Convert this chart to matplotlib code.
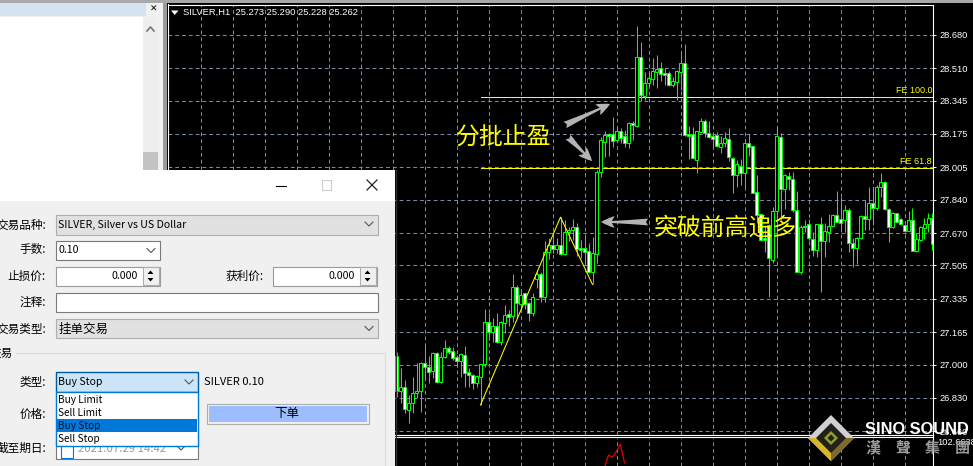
import matplotlib
matplotlib.use('Agg')
import matplotlib.pyplot as plt
import numpy as np
from matplotlib.patches import Rectangle, Polygon

# hourly silver candles; first one sits just right of the dialog
opens = [27.044, 26.864, 26.884, 26.766, 26.803, 26.857, 26.864, 27.007, 26.986, 26.966,
         27.058, 26.913, 27.037, 27.083, 27.071, 27.037, 27.020, 27.049, 26.963, 26.946,
         26.908, 26.939, 27.002, 27.219, 27.165, 27.197, 27.117, 27.214, 27.258, 27.245,
         27.394, 27.309, 27.363, 27.313, 27.262, 27.435, 27.460, 27.343, 27.571, 27.608,
         27.591, 27.608, 27.564, 27.673, 27.686, 27.703, 27.593, 27.593, 27.578, 27.474,
         27.562, 27.981, 28.134, 28.175, 28.174, 28.145, 28.190, 28.165, 28.129, 28.230,
         28.216, 28.566, 28.369, 28.437, 28.455, 28.493, 28.513, 28.484, 28.484, 28.425,
         28.442, 28.493, 28.535, 28.174, 28.174, 28.043, 28.184, 28.243, 28.182, 28.165,
         28.170, 28.110, 28.128, 28.150, 28.054, 27.966, 28.014, 27.975, 28.128, 28.114,
         27.878, 27.766, 27.645, 27.711, 27.533, 27.784, 28.158, 27.893, 27.961, 27.944,
         27.788, 27.472, 27.706, 27.715, 27.640, 27.584, 27.715, 27.630, 27.677, 27.706,
         27.762, 27.740, 27.737, 27.786, 27.618, 27.593, 27.644, 27.757, 27.740, 27.822,
         27.800, 27.907, 27.929, 27.791, 27.703, 27.771, 27.740, 27.711, 27.682, 27.737,
         27.580, 27.635, 27.695, 27.715, 27.746]
closes = [26.867, 26.884, 26.772, 26.803, 26.857, 26.864, 27.007, 26.986, 26.963, 27.058,
          26.912, 27.037, 27.083, 27.066, 27.034, 27.020, 27.053, 26.956, 26.946, 26.908,
          26.942, 27.002, 27.219, 27.165, 27.197, 27.117, 27.217, 27.251, 27.241, 27.394,
          27.313, 27.353, 27.309, 27.262, 27.343, 27.462, 27.343, 27.574, 27.608, 27.591,
          27.608, 27.564, 27.676, 27.686, 27.703, 27.588, 27.584, 27.571, 27.472, 27.567,
          27.979, 28.145, 28.170, 28.165, 28.141, 28.190, 28.155, 28.127, 28.231, 28.219,
          28.566, 28.374, 28.437, 28.461, 28.496, 28.508, 28.481, 28.476, 28.425, 28.445,
          28.496, 28.535, 28.170, 28.166, 28.054, 28.190, 28.243, 28.182, 28.161, 28.151,
          28.114, 28.131, 28.153, 28.056, 27.966, 28.021, 27.975, 28.128, 28.110, 27.876,
          27.762, 27.635, 27.635, 27.543, 27.784, 28.165, 27.893, 27.966, 27.944, 27.788,
          27.473, 27.703, 27.700, 27.644, 27.584, 27.715, 27.630, 27.681, 27.706, 27.762,
          27.728, 27.723, 27.786, 27.618, 27.593, 27.644, 27.757, 27.740, 27.822, 27.796,
          27.903, 27.929, 27.791, 27.703, 27.771, 27.728, 27.715, 27.682, 27.737, 27.580,
          27.640, 27.701, 27.715, 27.746, 27.615]
highs = [27.066, 26.981, 26.922, 26.845, 26.939, 27.007, 27.015, 27.092, 27.041, 27.066,
         27.066, 27.066, 27.126, 27.092, 27.088, 27.049, 27.061, 27.095, 26.981, 26.952,
         26.947, 27.003, 27.282, 27.265, 27.236, 27.265, 27.224, 27.304, 27.279, 27.460,
         27.406, 27.380, 27.367, 27.321, 27.363, 27.482, 27.474, 27.627, 27.644, 27.669,
         27.644, 27.751, 27.737, 27.703, 27.741, 27.720, 27.635, 27.656, 27.618, 27.649,
         27.992, 28.160, 28.190, 28.180, 28.262, 28.206, 28.206, 28.195, 28.236, 28.243,
         28.725, 28.645, 28.491, 28.498, 28.562, 28.578, 28.544, 28.511, 28.498, 28.467,
         28.501, 28.598, 28.634, 28.216, 28.211, 28.192, 28.258, 28.250, 28.243, 28.187,
         28.187, 28.165, 28.187, 28.206, 28.059, 28.043, 28.048, 28.148, 28.174, 28.114,
         27.966, 27.767, 27.711, 27.716, 27.805, 28.212, 28.179, 27.971, 27.983, 27.983,
         27.885, 27.711, 27.737, 27.742, 27.676, 27.716, 27.754, 27.720, 27.766, 27.767,
         27.885, 27.856, 27.813, 27.800, 27.645, 27.652, 27.762, 27.839, 27.903, 27.900,
         27.915, 27.975, 27.936, 27.797, 27.776, 27.773, 27.746, 27.715, 27.783, 27.800,
         27.671, 27.706, 27.749, 27.771, 27.771]
lows = [26.837, 26.803, 26.755, 26.701, 26.755, 26.828, 26.760, 26.922, 26.905, 26.930,
        26.905, 26.905, 27.032, 27.054, 27.024, 26.990, 26.939, 26.888, 26.888, 26.874,
        26.888, 26.794, 26.990, 27.126, 27.117, 27.109, 27.100, 27.160, 27.194, 27.219,
        27.236, 27.279, 27.282, 27.224, 27.245, 27.389, 27.321, 27.321, 27.537, 27.567,
        27.567, 27.559, 27.559, 27.627, 27.635, 27.554, 27.542, 27.516, 27.465, 27.408,
        27.518, 27.956, 28.058, 28.063, 28.109, 28.134, 28.129, 28.109, 28.104, 28.145,
        28.211, 28.343, 28.348, 28.415, 28.425, 28.410, 28.447, 28.425, 28.420, 28.416,
        28.348, 28.399, 28.165, 28.048, 28.051, 27.978, 28.180, 28.160, 28.153, 28.116,
        28.110, 28.080, 28.110, 28.039, 27.876, 27.907, 27.915, 27.903, 28.065, 27.873,
        27.722, 27.631, 27.574, 27.346, 27.516, 27.543, 27.737, 27.791, 27.890, 27.779,
        27.472, 27.462, 27.676, 27.635, 27.555, 27.550, 27.371, 27.550, 27.626, 27.703,
        27.727, 27.677, 27.677, 27.575, 27.499, 27.511, 27.640, 27.686, 27.686, 27.711,
        27.788, 27.856, 27.788, 27.626, 27.695, 27.725, 27.711, 27.677, 27.681, 27.579,
        27.572, 27.630, 27.640, 27.677, 27.584]

price_ticks = [28.680, 28.510, 28.345, 28.175, 28.005, 27.840, 27.670, 27.505,
               27.335, 27.165, 27.000, 26.830, 26.660]
price_labels = ['28.680', '28.510', '28.345', '28.175', '28.005', '27.840', '27.670',
                '27.505', '27.335', '27.165', '27.000', '26.830', '26.660']

# Fibonacci expansion levels and the zigzag swing they hang off
fe_levels = [28.362, 28.000]
fe_labels = ['FE 100.0', 'FE 61.8']
swing_bars = [21, 41, 49]

# lower indicator window, only the red peak shows
ind_bars = [52, 53, 54, 55, 56, 57]
ind_values = [101.36, 102.01, 101.90, 102.21, 102.55, 101.61]

W, H = 973, 466
CJK = ['Noto Sans CJK SC', 'DejaVu Sans']
GREEN = '#00ff00'
GRID = '#7c8ca0'
DASH = (0, (3.8, 3))
XMIN, XMAX = -57.125, 134.125

fig = plt.figure(figsize=(W / 100, H / 100), dpi=100, facecolor='black')


def px_axes(x0, y0, x1, y1):
    # axes placed by its pixel box, y counted from the top of the picture
    return fig.add_axes([x0 / W, 1 - y1 / H, (x1 - x0) / W, (y1 - y0) / H])


# price window
ax = px_axes(168, 5, 933, 435)
ax.set_facecolor('black')
ax.set_xlim(XMIN, XMAX)
ax.set_ylim(26.641, 28.832)
ax.set_xticks(np.arange(-49, 128, 8))
ax.set_yticks(price_ticks)
ax.set_yticklabels(price_labels, family='Liberation Sans', fontsize=6.7, color='white')
ax.yaxis.tick_right()
ax.tick_params(axis='y', length=2.5, width=0.7, color='white', pad=2)
ax.tick_params(axis='x', length=0, labelbottom=False)
ax.grid(True, color=GRID, lw=0.72, ls=DASH)
ax.set_axisbelow(True)
for s in ax.spines.values():
    s.set_visible(False)

bars = np.arange(len(opens))
o = np.array(opens)
c = np.array(closes)
ax.vlines(bars, lows, highs, colors=GREEN, lw=0.72, zorder=3)
fills = ['black' if c[i] >= o[i] else 'white' for i in bars]
ax.bar(bars, np.abs(c - o), bottom=np.minimum(o, c), width=0.6, color=fills,
       edgecolor=GREEN, lw=0.72, zorder=4)

# yellow swing and levels
swing_prices = [lows[swing_bars[0]], highs[swing_bars[1]], lows[swing_bars[2]]]
ax.plot(swing_bars, swing_prices, color='#ffff00', lw=0.75, zorder=5)
for level, name in zip(fe_levels, fe_labels):
    ax.plot([swing_bars[0], XMAX], [level, level], color='#ffff00', lw=0.72, zorder=2)
    ax.text(133.9, level + 0.012, name, color='#ffff00', ha='right', va='bottom',
            fontsize=6.5, family='Liberation Sans', zorder=6)

# indicator window
sub = px_axes(168, 438, 933, 466)
sub.set_facecolor('black')
sub.set_xlim(XMIN, XMAX)
sub.set_ylim(101.46, 102.86)
sub.set_xticks(np.arange(-49, 128, 8))
sub.set_yticks([])
sub.tick_params(axis='x', length=0, labelbottom=False)
sub.grid(True, axis='x', color=GRID, lw=0.72, ls=DASH)
sub.set_axisbelow(True)
for s in sub.spines.values():
    s.set_visible(False)
sub.plot(ind_bars, ind_values, color='#ff0000', lw=0.8)

# everything else is screen furniture, drawn in picture pixels
ui = fig.add_axes([0, 0, 1, 1], zorder=10)
ui.set_xlim(0, W)
ui.set_ylim(H, 0)
ui.axis('off')


def box(x0, y0, x1, y1, fill, edge=None, z=1, lw=0.8):
    ui.add_patch(Rectangle((x0, y0), x1 - x0, y1 - y0, facecolor=fill,
                           edgecolor=edge if edge else 'none', lw=lw, zorder=z))


def txt(x, y, s, ha='left', color='black', size=8.4, z=3, **kw):
    ui.text(x, y, s, ha=ha, va='center', color=color, fontsize=size, family=kw.pop('family', CJK),
            zorder=z, **kw)


def chevron(x, y, color='#555555', z=3):
    ui.plot([x - 4, x, x + 4], [y - 2, y + 2, y - 2], color=color, lw=0.8, zorder=z)


# chart frame and info line
ui.plot([168, 933, 933], [4.5, 4.5, 466], color='white', lw=0.8, zorder=1)
ui.plot([167.5, 167.5], [4, 170], color='white', lw=0.8, zorder=1)
ui.plot([168, 933], [435, 435], color='white', lw=0.8, zorder=1)
ui.plot([168, 933], [437.3, 437.3], color='white', lw=0.8, zorder=1)
ui.add_patch(Polygon([(171, 10.5), (178.5, 10.5), (174.7, 15)], facecolor='white', zorder=2))
txt(183, 12.5, 'SILVER,H1  25.273 25.290 25.228 25.262', color='white', size=6.75,
    family='Liberation Sans')
txt(937, 442.5, '102.6638', color='white', size=6.7, family='Liberation Sans')

# top grey band and the empty panel on the left
box(0, 0, W, 3, '#a8a8a8')
box(0, 3, 163, 170, '#f0f0f0')
box(0, 3, 146, 16, '#d5e3f0')
box(0, 17, 143, 170, 'white')
box(143, 18, 158, 170, '#eeeeee')
box(143, 152, 158, 170, '#c4c4c4')
box(163, 3, 167, 170, '#9a9a9a')
ui.plot([147, 150.5, 154], [31, 27, 31], color='#777777', lw=1.2, zorder=2)
txt(154, 9.5, '✕', ha='center', size=6.5, family='DejaVu Sans', fontweight='bold')

# order dialog
LATIN = 7.6
box(0, 170, 395, 466, '#f0f0f0')
box(0, 170, 395, 201, 'white')
ui.plot([395.5, 395.5], [170, 466], color='#303030', lw=1.0, zorder=2)
ui.plot([276, 286], [185.5, 185.5], color='black', lw=0.8, zorder=2)
box(321.5, 180, 331, 189.5, 'white', '#cccccc', z=2)
ui.plot([367, 377], [180, 190], color='#222222', lw=0.9, zorder=2)
ui.plot([367, 377], [190, 180], color='#222222', lw=0.9, zorder=2)

box(55.5, 214.5, 377.5, 234.5, '#e1e1e1', '#adadad')
txt(58.5, 225, 'SILVER, Silver vs US Dollar', size=LATIN)
chevron(369, 224)
txt(46, 225, '交易品种:', ha='right')

box(55.5, 240.5, 159.5, 260, 'white', '#7a7a7a')
txt(58.5, 250, '0.10', size=LATIN)
chevron(151, 250.5)
txt(46, 250, '手数:', ha='right')

txt(46, 276, '止损价:', ha='right')
box(55.5, 266.5, 159.5, 285.5, 'white', '#9a9a9a')
box(143, 267, 159, 285, '#f0f0f0', '#adadad')
txt(138, 276, '0.000', ha='right', size=LATIN)
txt(264, 276, '获利价:', ha='right')
box(272.5, 266.5, 376.5, 285.5, 'white', '#9a9a9a')
box(360, 267, 376, 285, '#f0f0f0', '#adadad')
txt(355, 276, '0.000', ha='right', size=LATIN)
for sx in [150.5, 367.5]:
    ui.add_patch(Polygon([(sx - 3, 274), (sx + 3, 274), (sx, 270.5)], facecolor='black', zorder=3))
    ui.add_patch(Polygon([(sx - 3, 278), (sx + 3, 278), (sx, 281.5)], facecolor='black', zorder=3))

box(55.5, 292.5, 377.5, 311.5, 'white', '#7a7a7a')
txt(46, 302, '注释:', ha='right')

box(55.5, 319, 377.5, 338, '#e1e1e1', '#adadad')
txt(58.5, 329, '挂单交易', size=9)
chevron(369, 328.5)
txt(46, 329, '交易类型:', ha='right')

# group frame
ui.plot([16, 385, 385], [353, 353, 466], color='#dcdcdc', lw=0.9, zorder=2)
txt(13, 353, '交易', ha='right')

txt(46, 382, '类型:', ha='right')
box(55.5, 372, 197.5, 391.5, '#cce4f7', '#005a9e', z=2, lw=1.0)
txt(58.5, 382, 'Buy Stop', size=LATIN)
chevron(189, 382)
txt(204.5, 382, 'SILVER 0.10', size=8)

txt(46, 414, '价格:', ha='right')
box(206.5, 403.5, 368.5, 423.5, '#f0f0f0', '#adadad', z=2)
box(208.5, 405.5, 366.5, 421.5, '#9dbdff', z=2)
txt(287, 414, '下单', ha='center', size=9)

txt(46, 448, '截至期日:', ha='right')
box(55.5, 436, 197.5, 459, 'white', '#7a7a7a', z=2)
box(60.5, 444, 72.5, 458, 'white', '#0078d7', z=2)
txt(78, 448.5, '2021.07.29 14:42', color='#9a9a9a', size=8.2)
chevron(181, 448)

# open list of the order type box goes over the date field
box(55.5, 392, 197.5, 446, 'white', '#0078d7', z=5, lw=1.0)
box(56, 419, 197, 432, '#0078d7', z=6)
txt(57.5, 400, 'Buy Limit', z=7, size=7.3)
txt(57.5, 413, 'Sell Limit', z=7, size=7.3)
txt(57.5, 426, 'Buy Stop', z=7, size=7.3, color='#101030')
txt(57.5, 439, 'Sell Stop', z=7, size=7.3)

# hand made notes on the chart
txt(456, 138, '分批止盈', color='#ffff00', size=17.2)
txt(654, 228, '突破前高追多', color='#ffff00', size=17.2, z=8)
for tail, head in [((565, 125), (610, 104)), ((568, 137), (592, 161)), ((648, 222), (601, 222))]:
    ui.annotate('', xy=head, xytext=tail,
                arrowprops=dict(arrowstyle='fancy,head_length=0.7,head_width=0.6,tail_width=0.35',
                                mutation_scale=14, color='#b4b4b4', lw=0, shrinkA=0, shrinkB=0),
                zorder=8)

# logo bottom right
cx, cy = 831, 438


def diamond(r, fill, z):
    ui.add_patch(Polygon([(cx, cy - r), (cx + r, cy), (cx, cy + r), (cx - r, cy)],
                         facecolor=fill, zorder=z))


diamond(23, '#d0d0d0', 9)
ui.add_patch(Polygon([(cx - 23, cy), (cx, cy), (cx, cy + 23)], facecolor='#d8b62c', zorder=9))
ui.add_patch(Polygon([(cx + 23, cy), (cx, cy), (cx, cy + 23)], facecolor='#7d6a2c', zorder=9))
diamond(15, '#222018', 10)
diamond(7, '#8ea02c', 11)
diamond(3.5, '#222018', 12)
txt(865, 429, 'SINO SOUND', color='white', size=11.8, z=12, family='Liberation Sans', fontweight='bold')
for gx, ch in zip([865, 895, 925, 955], ['漢', '聲', '集', '團']):
    txt(gx, 447.5, ch, color='#9c9c9c', size=10.8, z=12, family='Noto Sans CJK TC', fontweight='bold')

fig.savefig('out.png', dpi=100, facecolor='black')
